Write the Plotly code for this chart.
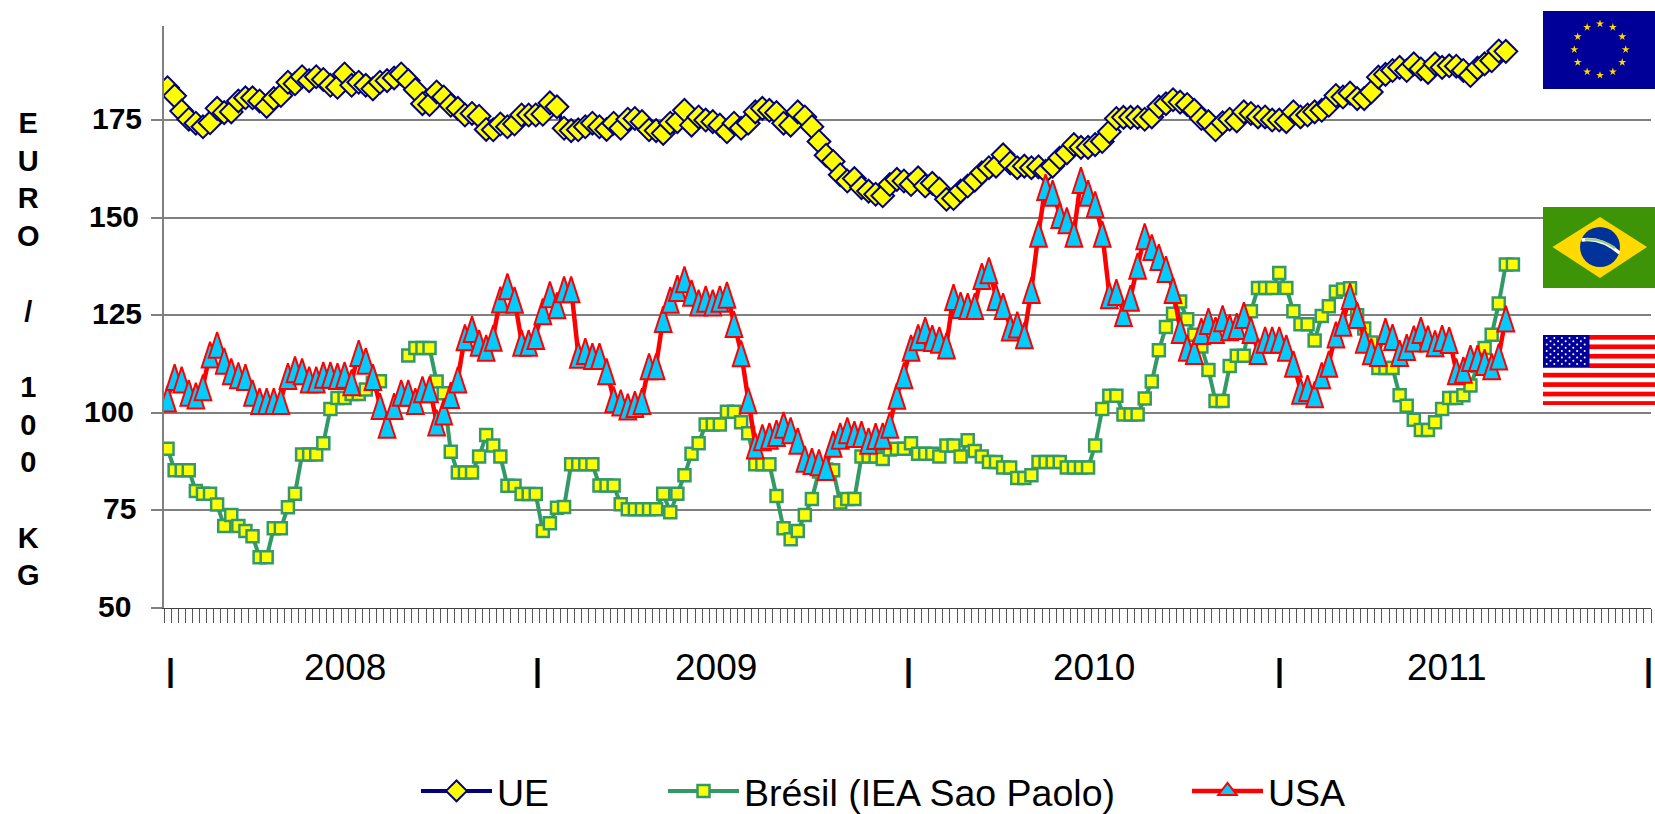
import base64, math
import plotly.graph_objects as go

# ---- chart values (EURO / 100 KG, weekly, 2008-2011) ----
ue = [183.3,181.2,177.3,175.2,174.2,173.3,174.3,178,176.9,177.1,179.9,180.7,180.7,179.9,178.5,180.5,181.3,184.7,184.3,186.1,
      185.1,186.1,185.4,183.9,183.4,186.8,183.9,184.7,183.9,183,184.7,185.1,185.8,186.8,185.1,182.8,179.2,179,182.2,180.9,
      178.8,178,176.3,176.7,176,172.6,172.5,174,173.3,174,176.3,176.3,176.3,176.5,179.4,178.4,172.9,172.3,172.5,173.3,174.2,
      173.3,172.6,174.2,172.9,175.2,175.4,174.6,172.5,172.3,171.6,174.2,174.6,177.5,173.7,175.8,175,174.6,173.7,172,174.2,
      172.9,174.2,177.1,178,177.5,176.9,174.2,173.7,177.1,175.8,173.3,169.5,166,164.4,161,159.4,160,157.7,156.8,156,
      155.6,158.5,159.8,159.4,158.5,160.2,158.1,158.8,157.3,154.7,154.9,156.8,158.1,159.6,161.5,162.8,163.2,166.1,164,162.8,
      163.2,162.8,163,161.9,163.2,165.3,166.6,168.7,168,168,168.7,169.5,172,175.4,175.7,175.7,175.7,175.2,175.8,178.4,179.2,
      180.2,179.6,179,177.5,175.4,174.6,172.5,174.3,175.2,174.8,177.1,176.7,175.8,175.8,175,175,174.6,177.1,175.8,176.3,
      177.1,177.5,178.8,181.3,180.9,181.9,180.5,180.5,182.2,186,186.7,187.7,188.5,187.7,189.4,188.1,187.2,189.4,188.5,188.9,
      188.8,187.7,186.4,188.3,189.4,190.2,192.7,192.6]

bresil = [90.8,85.3,85.3,85.3,80,79.3,79.3,76.5,71,73.8,71,69.7,68.4,63,63,70.4,70.4,75.8,79.3,89.3,
          89.3,89.3,92.2,101,103.8,103.8,104.8,104.8,106,107.7,108.1,None,None,None,114.7,116.6,116.6,116.6,108,105,
          90,84.7,84.7,84.7,88.8,94.3,91.6,88.8,81.3,81.3,79.2,79.2,79.2,69.7,71.7,75.7,75.9,86.8,86.8,86.8,
          86.8,81.4,81.4,81.4,76.6,75.3,75.3,75.3,75.3,75.3,79.3,74.5,79.3,84,89.5,92.2,97,97,97,100.3,
          100.3,97.6,94.8,86.8,86.8,86.8,78.7,70.4,67.6,69.7,73.8,77.9,85,85.5,85.3,77,77.9,77.9,88.8,88.8,
          88.8,88.2,90.6,90.8,90.8,92.2,89.5,89.5,89.5,88.8,91.6,91.6,88.8,93,90.2,88.8,87.4,87.4,86,86,
          83.3,83.3,84,87.4,87.4,87.4,87.4,86,86,86,86,91.6,101,104.4,104.4,99.6,99.6,99.6,103.7,108,
          116,122,125.4,128.5,124,120,117,111,103,103,112,114.6,114.6,126,132,132,132,135.8,132,126,
          122.7,122.7,118.5,124.8,127.3,131,131.6,131.9,125,121.6,118,111.5,111.5,111.5,104.5,101.8,98.2,95.6,95.6,97.6,
          101,103.8,103.8,104.5,107,112,116.6,120,128,138,138]

usa = [103.9,109.4,108.8,105.4,104.7,106.8,115.2,117.7,113.6,110.9,109.9,109.4,105.4,103.3,103.3,103.3,103.3,109.7,111.4,110.9,
       108.8,108.8,110,110,109.7,110,108.1,115.6,113.6,109.4,102,97.2,102,105.4,105.4,103.3,106.3,106.3,97.8,100.6,
       104.8,108.8,119.6,121.7,118.2,116.9,119.5,129.3,132.7,129.2,118.2,118.2,119.9,126.3,130.6,127.8,131.9,131.9,115.1,116.1,
       114.8,114.8,110.9,103.7,102.9,101.9,102.5,103.3,112.2,112.2,124.3,129.2,132.2,134.5,131,128.5,129.5,128.5,129.5,130.5,
       123,115.5,103.5,91.9,94,94.4,95.1,97.2,95.8,93.1,88.5,87.9,87.6,86.4,92.3,94.4,95.8,94.8,94.8,93.1,
       94.3,94.4,97.2,104.6,109.9,116.9,119.6,121.5,119.4,119,117.5,129.9,127.9,127.6,127.6,135.3,136.8,129.9,127.6,122.1,
       122.9,120.1,131.7,146.1,158.1,156.6,150.9,149.6,146.1,159.9,156.6,153.7,146.1,130.4,131.2,125.8,129.7,137.9,145.5,142.7,
       140.2,137.1,131.7,121.5,116.9,116.1,121.2,123.8,121.5,124.5,122.2,122.5,125.3,121.5,116.1,119,119,119,116.9,112.8,
       105.9,106.6,105,109.9,112.8,120.3,123.3,130.2,125.3,119,116,115.6,121.2,119.7,115.6,117.1,119.3,121.5,119.3,118.1,
       119.4,118.9,110.9,111.3,114.3,114.3,113.3,112.2,114.7,124.4]

weeks = list(range(210))
y_ticks = [50, 75, 100, 125, 150, 175]
y_tick_text = ["50", "75", "100", "125", "150", "175"]
y_tick_right_px = [133, 137.5, 136, 144, 141, 144]
years = ["2008", "2009", "2010", "2011"]
year_pos = [25.1, 77.4, 130.8, 180.7]
year_seps = [0.35, 52.3, 104.7, 157, 209.2]
series_names = ["UE", "Brésil (IEA Sao Paolo)", "USA"]

FONT = "Liberation Sans, Arial, sans-serif"
L, R, T, B = 164, 1651, 26, 608
W, H = R - L, B - T
Y0, Y1 = 50, 199.1
# The triangle symbol has its tip on the point; this axis shift centres it on the point instead.
TRI_SHIFT = 3.0
def px(x): return (x - L) / W
def py(y): return (B - y) / H

# ---- flags (decor) ----
def star(cx, cy, r, rot=-math.pi/2):
    pts = []
    for k in range(10):
        rr = r if k % 2 == 0 else r * 0.38
        a = rot + k * math.pi / 5
        pts.append(f"{cx + rr*math.cos(a):.2f},{cy + rr*math.sin(a):.2f}")
    return " ".join(pts)

def uri(svg):
    return "data:image/svg+xml;base64," + base64.b64encode(svg.encode()).decode()

eu_svg = '<svg xmlns="http://www.w3.org/2000/svg" width="112" height="78" viewBox="0 0 112 78"><rect width="112" height="78" fill="#000099"/>'
for k in range(12):
    a = k * math.pi / 6
    eu_svg += f'<polygon fill="#FFD800" points="{star(57 + 25.7*math.sin(a), 38.5 - 25.7*math.cos(a), 4.2)}"/>'
eu_svg += '</svg>'

br_svg = ('<svg xmlns="http://www.w3.org/2000/svg" width="112" height="81" viewBox="0 0 112 81">'
          '<rect width="112" height="81" fill="#3D9407"/>'
          '<polygon fill="#FFD900" points="9.5,40 57,10 104,40 57,71"/>'
          '<circle cx="57" cy="40" r="20" fill="#003399"/>'
          '<path d="M38.5,33 Q58,30 76.5,46" stroke="#ffffff" stroke-width="3.4" fill="none"/>'
          '<path d="M42,32.6 Q58,31 72,41" stroke="#9CCB7A" stroke-width="2.2" fill="none"/></svg>')

us_svg = '<svg xmlns="http://www.w3.org/2000/svg" width="112" height="70" viewBox="0 0 112 70"><rect width="112" height="70" fill="#ffffff"/>'
for k in range(8):
    us_svg += f'<rect y="{k*9.45:.2f}" width="112" height="4.67" fill="#FF0000"/>'
us_svg += '<rect width="46.5" height="32" fill="#000099"/>'
for row in range(9):
    n = 6 if row % 2 == 0 else 5
    for c in range(n):
        xx = (3.7 if row % 2 == 0 else 7.5) + c * 7.6
        us_svg += f'<circle cx="{xx:.1f}" cy="{3 + row*3.25:.1f}" r="1" fill="#ffffff"/>'
us_svg += '</svg>'

images = []
for svg, top, h in [(eu_svg, 11, 78), (br_svg, 207, 81), (us_svg, 335, 70)]:
    images.append(dict(source=uri(svg), xref="paper", yref="paper", x=px(1543), y=py(top),
                       sizex=112 / W, sizey=h / H, xanchor="left", yanchor="top",
                       sizing="stretch", layer="above"))

# ---- traces ----
fig = go.Figure()
fig.add_trace(go.Scatter(x=weeks[:len(ue)], y=ue, mode="lines+markers", name=series_names[0], legend="legend",
                         line=dict(color="#000080", width=4),
                         marker=dict(symbol="diamond", size=17.5, color="#FFFF00", line=dict(color="#000080", width=2))))
fig.add_trace(go.Scatter(x=weeks[:len(bresil)], y=bresil, mode="lines+markers", name=series_names[1], legend="legend2",
                         connectgaps=False, line=dict(color="#339966", width=4),
                         marker=dict(symbol="square", size=12, color="#FFFF00", line=dict(color="#339966", width=2.5))))
fig.add_trace(go.Scatter(x=weeks[:len(usa)], y=usa, mode="lines", showlegend=False,
                         line=dict(color="#FF0000", width=4.5)))
fig.add_trace(go.Scatter(x=weeks[:len(usa)], y=usa, mode="markers", yaxis="y2", showlegend=False,
                         marker=dict(symbol="arrow", size=27, color="#00CCFF", line=dict(color="#FF0000", width=2))))
# legend key for the USA series (line + triangle)
fig.add_trace(go.Scatter(x=[None], y=[None], mode="lines+markers", name=series_names[2], legend="legend3",
                         line=dict(color="#FF0000", width=4.5),
                         marker=dict(symbol="triangle-up", size=16, color="#00CCFF", line=dict(color="#FF0000", width=2))))

# ---- annotations ----
ann = []
for v, t, r in zip(y_ticks, y_tick_text, y_tick_right_px):
    ann.append(dict(xref="paper", yref="y", x=px(r), y=v, yshift=1.5, text=t, showarrow=False, xanchor="right",
                    yanchor="middle", font=dict(family=FONT, size=30, color="black", weight="bold")))
for t, pos in zip(years, year_pos):
    ann.append(dict(xref="x", yref="paper", x=pos, y=py(667), text=t, showarrow=False, xanchor="center",
                    yanchor="middle", font=dict(family=FONT, size=37, color="black")))
for pos in year_seps:
    ann.append(dict(xref="x", yref="paper", x=pos, y=py(670), text="|", showarrow=False, xanchor="center",
                    yanchor="middle", font=dict(family=FONT, size=32, color="black", weight="bold")))
ann.append(dict(xref="paper", yref="paper", x=px(28), y=py(349), showarrow=False, xanchor="center", yanchor="middle",
                text="E<br>U<br>R<br>O<br> <br>/<br> <br>1<br>0<br>0<br> <br>K<br>G", align="center",
                font=dict(family=FONT, size=29, color="black", weight="bold")))

def leg(x):
    return dict(x=x / 1655, y=1 - 760 / 814, xref="container", yref="container", xanchor="left", yanchor="top",
                orientation="h", itemwidth=71, bgcolor="rgba(0,0,0,0)", borderwidth=0,
                font=dict(family=FONT, size=37.5, color="black"), itemclick=False, itemdoubleclick=False)

fig.update_layout(
    width=1655, height=814, autosize=False, paper_bgcolor="white", plot_bgcolor="white",
    margin=dict(l=L, r=1655 - R, t=T, b=814 - B, pad=0),
    font=dict(family=FONT, color="black"),
    xaxis=dict(range=[-0.5, 209.5], tickmode="array", tickvals=[i - 0.5 for i in range(211)],
               showticklabels=False, ticks="outside", ticklen=14, tickwidth=1, tickcolor="#555555",
               showgrid=False, zeroline=False, showline=True, linecolor="#404040", linewidth=1),
    yaxis=dict(range=[Y0, Y1], tickmode="array", tickvals=y_ticks, showticklabels=False,
               ticks="outside", ticklen=11, tickwidth=1.5, tickcolor="#808080",
               showgrid=True, gridcolor="#808080", gridwidth=1.5, zeroline=False,
               showline=True, linecolor="#808080", linewidth=2),
    yaxis2=dict(range=[Y0 - TRI_SHIFT, Y1 - TRI_SHIFT], overlaying="y", visible=False),
    legend=leg(416), legend2=leg(663), legend3=leg(1187),
    annotations=ann, images=images, showlegend=True,
)

fig.write_html("out.html", config={"displayModeBar": False},
               post_script="document.body.style.margin='0';document.body.style.overflow='hidden';")
